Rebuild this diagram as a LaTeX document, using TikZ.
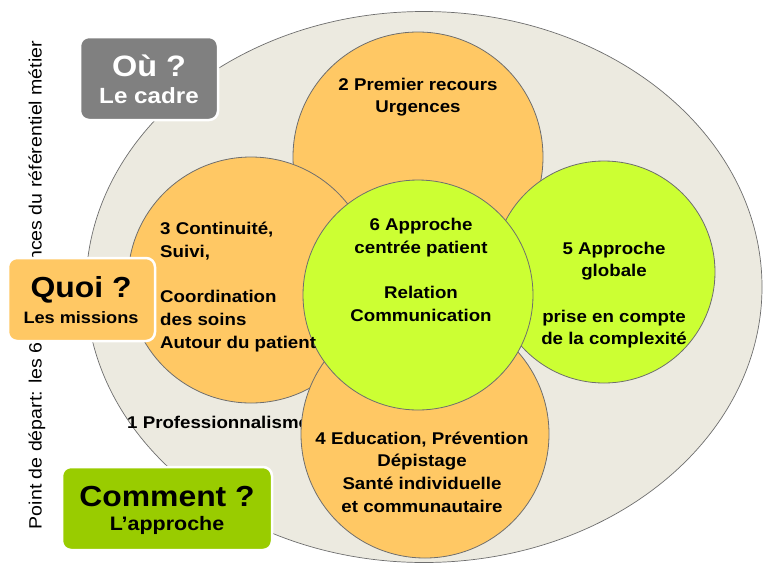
\documentclass[tikz,border=0pt]{standalone}
\usepackage{fontspec}
\setmainfont[FakeStretch=1.1]{Liberation Sans}
\usetikzlibrary{shapes.geometric}
\definecolor{bgell}{RGB}{236,234,224}
\definecolor{orangec}{RGB}{255,200,100}
\definecolor{limec}{RGB}{204,255,51}
\definecolor{greenbox}{RGB}{153,204,0}
\definecolor{greybox}{RGB}{128,128,128}
\definecolor{edgec}{RGB}{110,110,110}
\newcommand{\fsz}[2]{\fontsize{#1}{#2}\selectfont\bfseries}
\begin{document}
\begin{tikzpicture}[x=1pt,y=-1pt,
  orb/.style={circle,draw=edgec,line width=0.8pt,fill=orangec,inner sep=0pt,minimum size=#1},
  grb/.style={circle,draw=edgec,line width=0.8pt,fill=limec,inner sep=0pt,minimum size=#1},
  lbl/.style={font=\fsz{17}{22.7},align=center,text=black,inner sep=0pt},
  qbox/.style={draw=white,line width=2.5pt,rounded corners=9pt,inner sep=0pt},
]
\useasboundingbox (0,0) rectangle (764,566);
\fill[white] (0,0) rectangle (764,566);
% big ellipse
\node[ellipse,draw=edgec,line width=0.7pt,fill=bgell,minimum width=676pt,minimum height=551pt,inner sep=0pt] (big) at (424,287) {};
% rotated side text
\node[rotate=90,font=\fontsize{17.8}{20}\selectfont,inner sep=0pt] (side) at (37,285) {Point de départ: les 6 compétences du référentiel métier};
% circles
\node[orb=250pt] (c2) at (418,157) {};
\node[orb=246pt] (c3) at (251,280) {};
\node[lbl,anchor=west] (t1) at (127,422) {1 Professionnalisme};
\node[orb=248pt] (c4) at (425,434) {};
\node[grb=222pt] (c5) at (604,272) {};
\node[grb=230pt] (c6) at (418,295) {};
% circle texts
\node[lbl] (t2) at (418,97) {2 Premier recours\\Urgences};
\node[lbl,align=left,anchor=north west] (t3) at (160,222) {3 Continuité,\\Suivi,\\[22.7pt]Coordination\\des soins\\Autour du patient};
\node[lbl] (t6) at (421,270) {6 Approche\\centrée patient\\[22.7pt]Relation\\Communication};
\node[lbl] (t5) at (614,295) {5 Approche\\globale\\[22.7pt]prise en compte\\de la complexité};
\node[lbl] (t4) at (422,472) {4 Education, Prévention\\Dépistage\\Santé individuelle\\et communautaire};
% question boxes
\draw[qbox,fill=greybox] (80,37) rectangle (218,120);
\node[font=\fsz{29.5}{32},text=white] (ou) at (149,66) {Où ?};
\node[font=\fsz{22}{24},text=white] (cadre) at (149,96) {Le cadre};
\draw[qbox,fill=orangec] (8,258) rectangle (155,341);
\node[font=\fsz{29}{32}] (quoi) at (81,290) {Quoi ?};
\node[font=\fsz{16.5}{20}] (miss) at (81,318) {Les missions};
\draw[qbox,fill=greenbox] (62,467) rectangle (272,550);
\node[font=\fsz{29}{32}] (comm) at (167,497) {Comment ?};
\node[font=\fsz{19.5}{22}] (appr) at (167,525) {L’approche};
\end{tikzpicture}
\end{document}
